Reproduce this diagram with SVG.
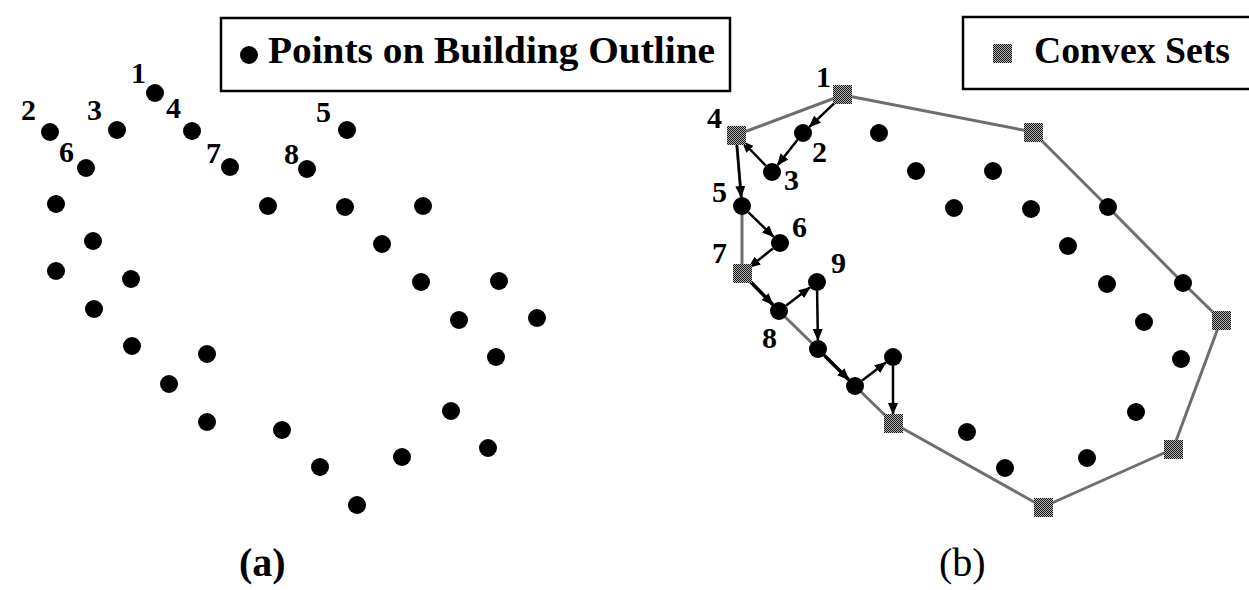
<svg xmlns="http://www.w3.org/2000/svg" width="1249" height="590" viewBox="0 0 1249 590">
<style>
.bg{fill:#fff}
.dot{fill:#000}
.sq{fill:url(#stip)}
.lbl{font-family:"Liberation Serif","Times New Roman",serif;font-weight:bold;font-size:30px;fill:#000}
.leg{font-family:"Liberation Serif","Times New Roman",serif;font-weight:bold;font-size:38px;fill:#000}
.cap{font-family:"Liberation Serif","Times New Roman",serif;font-size:40px;fill:#000}
.box{fill:#fff;stroke:#000;stroke-width:2.5}
.hull{fill:none;stroke:#6e6e6e;stroke-width:3;stroke-linejoin:round}
.arr{fill:none;stroke:#000;stroke-width:2.5;marker-end:url(#ah)}
.arrT{fill:none;stroke:#000;stroke-width:3.5;marker-end:url(#ah)}
</style>
<defs>
<pattern id="stip" patternUnits="userSpaceOnUse" width="2" height="2">
<rect width="2" height="2" fill="#b8b8b8"/>
<rect width="1" height="1" fill="#111"/>
<rect x="1" y="1" width="1" height="1" fill="#111"/>
</pattern>
<marker id="ah" markerUnits="userSpaceOnUse" markerWidth="12" markerHeight="10" refX="11" refY="5" orient="auto">
<path d="M0,0 L12,5 L0,10 Z" fill="#000"/>
</marker>
</defs>
<rect class="bg" width="1249" height="590"/>

<g id="legend-a">
<rect class="box" x="221" y="18" width="509" height="73"/>
<circle class="dot" cx="249" cy="55" r="9"/>
<text class="leg" x="268" y="63" textLength="447" lengthAdjust="spacingAndGlyphs">Points on Building Outline</text>
</g>

<g id="legend-b">
<rect class="box" x="963" y="17" width="300" height="72"/>
<rect class="sq" x="993" y="44" width="19" height="19"/>
<text class="leg" x="1034" y="63" textLength="196" lengthAdjust="spacingAndGlyphs">Convex Sets</text>
</g>

<g id="panel-a">
<g id="a-points">
<circle class="dot" cx="155" cy="93" r="9"/>
<circle class="dot" cx="50" cy="132" r="9"/>
<circle class="dot" cx="117" cy="130" r="9"/>
<circle class="dot" cx="192" cy="131" r="9"/>
<circle class="dot" cx="347" cy="130" r="9"/>
<circle class="dot" cx="86" cy="168" r="9"/>
<circle class="dot" cx="230" cy="167" r="9"/>
<circle class="dot" cx="307" cy="169" r="9"/>
<circle class="dot" cx="56" cy="204" r="9"/>
<circle class="dot" cx="268" cy="206" r="9"/>
<circle class="dot" cx="345" cy="207" r="9"/>
<circle class="dot" cx="423" cy="206" r="9"/>
<circle class="dot" cx="93" cy="241" r="9"/>
<circle class="dot" cx="382" cy="244" r="9"/>
<circle class="dot" cx="56" cy="271" r="9"/>
<circle class="dot" cx="131" cy="279" r="9"/>
<circle class="dot" cx="421" cy="282" r="9"/>
<circle class="dot" cx="499" cy="281" r="9"/>
<circle class="dot" cx="94" cy="309" r="9"/>
<circle class="dot" cx="459" cy="320" r="9"/>
<circle class="dot" cx="537" cy="318" r="9"/>
<circle class="dot" cx="132" cy="346" r="9"/>
<circle class="dot" cx="207" cy="354" r="9"/>
<circle class="dot" cx="496" cy="357" r="9"/>
<circle class="dot" cx="169" cy="384" r="9"/>
<circle class="dot" cx="451" cy="411" r="9"/>
<circle class="dot" cx="207" cy="422" r="9"/>
<circle class="dot" cx="282" cy="430" r="9"/>
<circle class="dot" cx="488" cy="448" r="9"/>
<circle class="dot" cx="320" cy="467" r="9"/>
<circle class="dot" cx="402" cy="457" r="9"/>
<circle class="dot" cx="357" cy="505" r="9"/>
</g>
<g id="a-labels">
<text class="lbl" x="131" y="83">1</text>
<text class="lbl" x="21" y="120">2</text>
<text class="lbl" x="87" y="120">3</text>
<text class="lbl" x="166" y="118">4</text>
<text class="lbl" x="316" y="122">5</text>
<text class="lbl" x="59" y="162">6</text>
<text class="lbl" x="206" y="163">7</text>
<text class="lbl" x="284" y="164">8</text>
</g>
<text id="cap-a" class="cap" x="239" y="576" font-weight="bold">(a)</text>
</g>

<g id="connectors">
<polygon class="hull" points="843,95 1033,132 1108,207 1183,283 1221,320 1173,449 1043,507 893,423 855,386 818,349 779,311 742,273 742,206 736,135"/>
<line class="arr" x1="836.5" y1="101.2" x2="809.5" y2="126.8"/>
<line class="arr" x1="797.4" y1="140" x2="777.6" y2="165"/>
<line class="arr" x1="765.7" y1="165.5" x2="742.3" y2="141.5"/>
<line class="arr" x1="736.8" y1="144" x2="741.2" y2="197"/>
<line class="arr" x1="748.5" y1="212.3" x2="773.5" y2="236.7"/>
<line class="arr" x1="772.9" y1="248.6" x2="749.1" y2="267.4"/>
<line class="arrT" x1="748.3" y1="279.5" x2="772.7" y2="304.5"/>
<line class="arr" x1="786.2" y1="305.5" x2="809.8" y2="287.5"/>
<line class="arr" x1="817.1" y1="291" x2="817.9" y2="340"/>
<line class="arrT" x1="824.4" y1="355.4" x2="848.6" y2="379.6"/>
<line class="arr" x1="862.2" y1="380.5" x2="885.8" y2="362.5"/>
<line class="arr" x1="893" y1="366" x2="893" y2="414"/>
</g>

<g id="panel-b">
<g id="b-convex">
<rect class="sq" x="833" y="85" width="19" height="19"/>
<rect class="sq" x="727" y="126" width="19" height="19"/>
<rect class="sq" x="733" y="264" width="19" height="19"/>
<rect class="sq" x="1024" y="123" width="19" height="19"/>
<rect class="sq" x="1212" y="311" width="19" height="19"/>
<rect class="sq" x="1164" y="440" width="19" height="19"/>
<rect class="sq" x="1034" y="498" width="19" height="19"/>
<rect class="sq" x="884" y="414" width="19" height="19"/>
</g>
<g id="b-points">
<circle class="dot" cx="803" cy="133" r="9"/>
<circle class="dot" cx="772" cy="172" r="9"/>
<circle class="dot" cx="742" cy="206" r="9"/>
<circle class="dot" cx="780" cy="243" r="9"/>
<circle class="dot" cx="779" cy="311" r="9"/>
<circle class="dot" cx="817" cy="282" r="9"/>
<circle class="dot" cx="818" cy="349" r="9"/>
<circle class="dot" cx="855" cy="386" r="9"/>
<circle class="dot" cx="893" cy="357" r="9"/>
<circle class="dot" cx="879" cy="133" r="9"/>
<circle class="dot" cx="916" cy="171" r="9"/>
<circle class="dot" cx="993" cy="171" r="9"/>
<circle class="dot" cx="954" cy="208" r="9"/>
<circle class="dot" cx="1031" cy="209" r="9"/>
<circle class="dot" cx="1108" cy="207" r="9"/>
<circle class="dot" cx="1068" cy="246" r="9"/>
<circle class="dot" cx="1107" cy="284" r="9"/>
<circle class="dot" cx="1183" cy="283" r="9"/>
<circle class="dot" cx="1144" cy="322" r="9"/>
<circle class="dot" cx="1181" cy="359" r="9"/>
<circle class="dot" cx="1136" cy="412" r="9"/>
<circle class="dot" cx="967" cy="432" r="9"/>
<circle class="dot" cx="1087" cy="458" r="9"/>
<circle class="dot" cx="1005" cy="468" r="9"/>
</g>
<g id="b-labels">
<text class="lbl" x="816" y="87">1</text>
<text class="lbl" x="707" y="128">4</text>
<text class="lbl" x="812" y="162">2</text>
<text class="lbl" x="784" y="190">3</text>
<text class="lbl" x="712" y="202">5</text>
<text class="lbl" x="792" y="237">6</text>
<text class="lbl" x="712" y="263">7</text>
<text class="lbl" x="831" y="273">9</text>
<text class="lbl" x="762" y="348">8</text>
</g>
<text id="cap-b" class="cap" x="939" y="576">(b)</text>
</g>
</svg>
